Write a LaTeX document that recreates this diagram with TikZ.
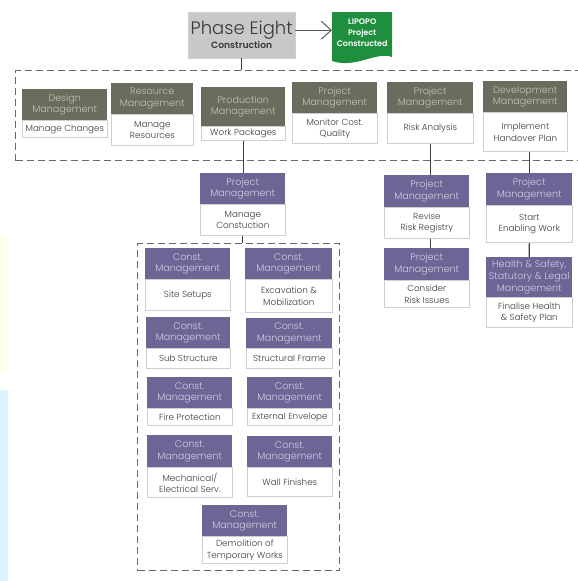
\documentclass[tikz,border=0pt]{standalone}
\usepackage{fontspec}
\setmainfont{Poppins}[UprightFont=* Light, BoldFont=* SemiBold]
\usetikzlibrary{arrows.meta}

\definecolor{olivehd}{HTML}{6C6C5E}
\definecolor{olivetx}{HTML}{C4C4B4}
\definecolor{purphd}{HTML}{6E6496}
\definecolor{purptx}{HTML}{D2CDE4}
\definecolor{bodytx}{HTML}{3C3C3C}
\definecolor{boxline}{HTML}{CFCFCF}
\definecolor{dashcol}{HTML}{6A6A6A}
\definecolor{linkcol}{HTML}{3F3F3F}
\definecolor{goalgreen}{HTML}{1F8E3E}
\definecolor{phasegray}{HTML}{C8C8C8}

% a management unit: coloured header on top of a white task box
% #1 name, #2 header style, #3 x, #4 top y, #5 width, #6 header height,
% #7 task height, #8 header text, #9 task text
\newcommand{\unitbox}[9]{%
  \node[#2, minimum width=#5pt, minimum height=#6pt] (#1h) at (#3,#4) {#8};
  \node[taskbox, minimum width=#5pt, minimum height=#7pt] (#1) at (#1h.south west) {#9};}

\begin{document}
\begin{tikzpicture}[x=1pt, y=-1pt,
  hdr/.style={anchor=north west, inner sep=0pt, align=center,
    font=\fontsize{9.6}{11.6}\selectfont},
  hdrO/.style={hdr, fill=olivehd, text=olivetx},
  hdrP/.style={hdr, fill=purphd, text=purptx},
  taskbox/.style={anchor=north west, draw=boxline, fill=white, line width=0.7pt,
    inner sep=0pt, align=center, text=bodytx, font=\fontsize{8.8}{11.2}\selectfont},
  dashframe/.style={anchor=north west, draw=dashcol, line width=1.3pt,
    dash pattern=on 7pt off 4pt, inner sep=0pt},
  link/.style={draw=linkcol, line width=1.2pt}]

\useasboundingbox (0,0) rectangle (578,581);

% pale strips at the left edge
\fill[yellow!9] (0,237) rectangle (8,372);
\fill[cyan!14] (0,390) rectangle (8,581);

% phase title and goal
\node[anchor=north west, fill=phasegray, draw=boxline, inner sep=0pt,
  minimum width=107pt, minimum height=46pt, align=center, text=black!78] (phase) at (188,12)
  {{\fontsize{18}{20}\selectfont Phase Eight}\\[1pt]{\bfseries\fontsize{9.2}{10}\selectfont Construction}};

\fill[goalgreen] (332,12) -- (392,12) -- (392,57)
  .. controls (376,51) and (356,69) .. (332,61) -- cycle;
\node[anchor=north west, inner sep=0pt, minimum width=60pt, minimum height=42pt,
  align=center, text=white, font=\bfseries\fontsize{8}{11}\selectfont] (goal) at (332,12)
  {LIPOPO\\Project\\Constructed};

\draw[draw=black!65, line width=1pt, -{Straight Barb[length=10pt,width=18pt]}]
  ([yshift=5pt]phase.east) -- ([yshift=3pt]goal.west);

% dashed groupings
\node[dashframe, minimum width=590pt, minimum height=90pt] (stageframe) at (15,70) {};
\node[dashframe, minimum width=202pt, minimum height=327pt] (constframe) at (137,243) {};

% stage row
\unitbox{design}{hdrO}{22}{89}{85}{31}{17}{Design\\Management}{Manage Changes}
\unitbox{resource}{hdrO}{111}{83}{82}{31}{31}{Resource\\Management}{Manage\\Resources}
\unitbox{production}{hdrO}{201}{87}{84}{39}{14}{Production\\Management}{Work Packages}
\unitbox{monitor}{hdrO}{292}{82}{85}{31}{30}{Project\\Management}{Monitor Cost.\\Quality}
\unitbox{risk}{hdrO}{387}{82}{86}{31}{30}{Project\\Management}{Risk Analysis}
\unitbox{develop}{hdrO}{483}{81}{84}{31}{39}{Development\\Management}{Implement\\Handover Plan}

% follow-up units
\unitbox{managec}{hdrP}{200}{173}{85}{31}{31}{Project\\Management}{Manage\\Constuction}
\unitbox{revise}{hdrP}{384}{175}{85}{32}{31}{Project\\Management}{Revise\\Risk Registry}
\unitbox{consider}{hdrP}{384}{248}{85}{32}{27}{Project\\Management}{Consider\\Risk Issues}
\unitbox{enabling}{hdrP}{486}{173}{86}{32}{37}{Project\\Management}{Start\\Enabling Work}
\unitbox{health}{hdrP}{486}{257}{86}{40}{30}{Health \& Safety,\\Statutory \& Legal\\Management}{Finalise Health\\\& Safety Plan}

% construction packages
\unitbox{site}{hdrP}{145}{248}{85}{31}{31}{Const.\\Management}{Site Setups}
\unitbox{excav}{hdrP}{245}{248}{87}{31}{33}{Const.\\Management}{Excavation \&\\Mobilization}
\unitbox{substr}{hdrP}{146}{317}{84}{31}{20}{Const.\\Management}{Sub Structure}
\unitbox{frame}{hdrP}{246}{318}{86}{30}{20}{Const.\\Management}{Structural Frame}
\unitbox{fire}{hdrP}{147}{377}{85}{31}{17}{Const.\\Management}{Fire Protection}
\unitbox{envelope}{hdrP}{247}{377}{85}{31}{17}{Const.\\Management}{External Envelope}
\unitbox{mech}{hdrP}{147}{435}{85}{32}{30}{Const.\\Management}{Mechanical/\\Electrical Serv.}
\unitbox{wall}{hdrP}{247}{436}{85}{31}{29}{Const.\\Management}{Wall Finishes}
\unitbox{demo}{hdrP}{202}{505}{85}{31}{27}{Const.\\Management}{Demolition of\\Temporary Works}

% connectors
\draw[link] (phase.south) -- (phase.south |- stageframe.north);
\draw[link] (production.south) -- (production.south |- managech.north);
\draw[link] (managec.south) -- (managec.south |- constframe.north);
\draw[link] (risk.south) -- (risk.south |- reviseh.north);
\draw[link] (risk.south |- revise.south) -- (risk.south |- considerh.north);
\draw[link] (enablingh.north |- develop.south) -- (enablingh.north);
\draw[link] (enabling.south) -- (healthh.north);
\end{tikzpicture}
\end{document}
